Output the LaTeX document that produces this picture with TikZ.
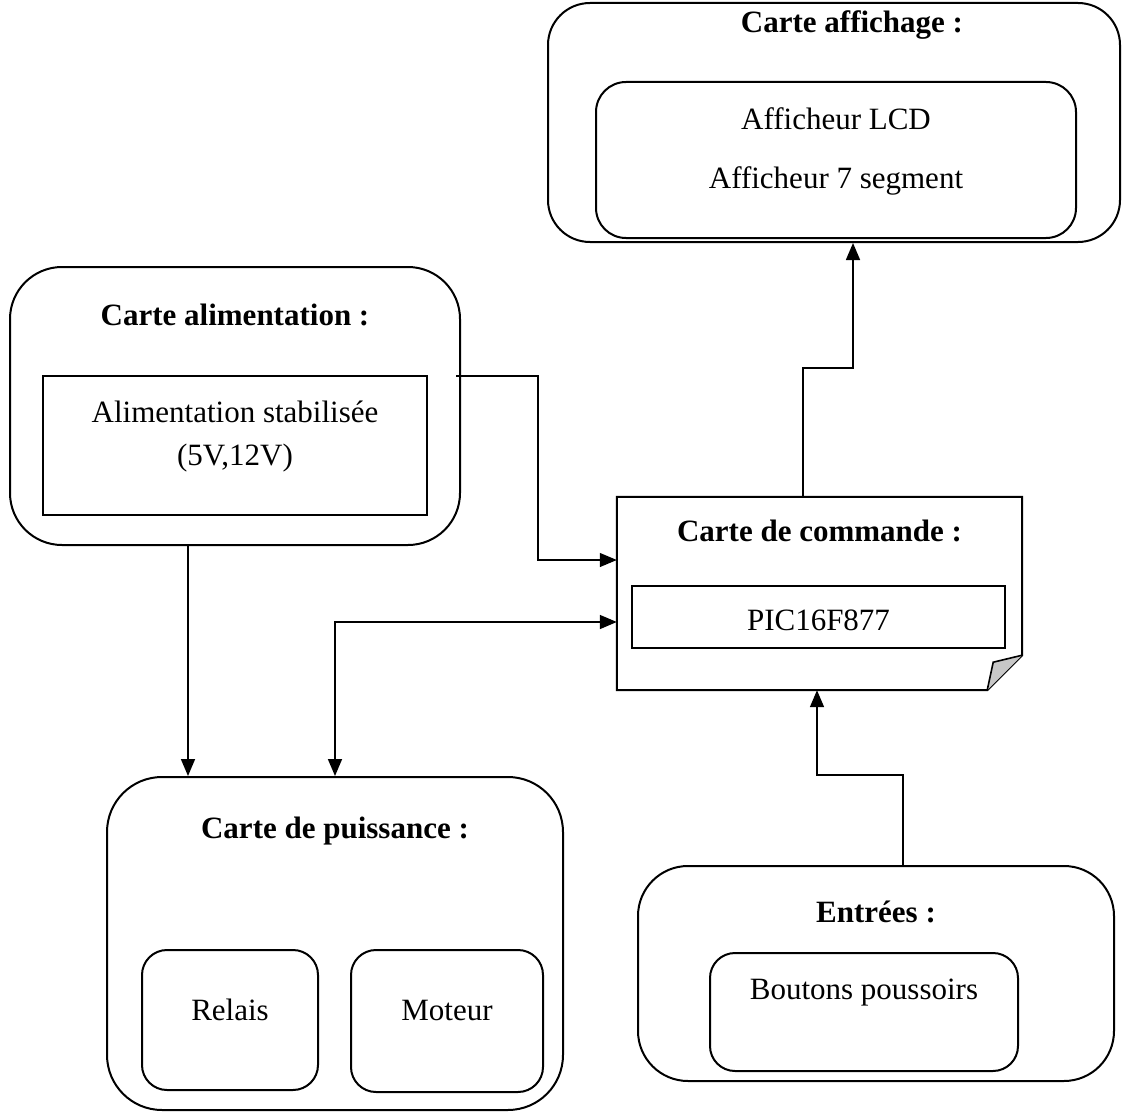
\documentclass[tikz,border=0pt]{standalone}
\usepackage{fontspec}
\setmainfont{Liberation Serif}
\usetikzlibrary{arrows.meta}
\begin{document}
\begin{tikzpicture}[x=1pt,y=-1pt,
  card/.style={draw,line width=2pt,rounded corners=#1,inner sep=0pt},
  card/.default=45pt,
  plainbox/.style={draw,line width=2pt,inner sep=0pt},
  txt/.style={anchor=base,inner sep=0pt,font=\fontsize{31}{37}\selectfont},
  ttl/.style={txt,font=\fontsize{31}{37}\selectfont\bfseries},
  link/.style={line width=1.6pt,-{Triangle[length=17pt,width=14pt]}},
  thinlink/.style={line width=1.1pt,-{Triangle[length=17pt,width=14pt]}}]
\useasboundingbox (0,0) rectangle (1122,1113);

% display card
\node[card=42pt,minimum width=572pt,minimum height=239pt] (aff) at (834,122.5) {};
\node[card=30pt,minimum width=480pt,minimum height=156pt] (affin) at (836,160) {};
\node[ttl] (afft) at (852,33) {Carte affichage :};
\node[txt] (lcd) at (836,130) {Afficheur LCD};
\node[txt] (seg) at (836,188) {Afficheur 7 segment};

% power supply card
\node[card=52pt,minimum width=450pt,minimum height=278pt] (alim) at (235,406) {};
\node[plainbox,minimum width=384pt,minimum height=139pt] (alimin) at (235,445.5) {};
\node[ttl] (alimt) at (235,325) {Carte alimentation :};
\node[txt] (stab) at (235,422) {Alimentation stabilisée};
\node[txt] (volt) at (235,465) {(5V,12V)};

% control card (folded corner)
\node[minimum width=405pt,minimum height=193pt,inner sep=0pt] (cmd) at (819.5,593.5) {};
\draw[line width=2pt] (cmd.north west) -- (cmd.north east) -- ([yshift=35pt]cmd.south east)
  -- ([xshift=-35pt]cmd.south east) -- (cmd.south west) -- cycle;
\draw[line width=1.6pt,fill=black!22] ([xshift=-35pt]cmd.south east) -- ([xshift=-29pt,yshift=28pt]cmd.south east)
  -- ([yshift=35pt]cmd.south east);
\node[plainbox,minimum width=373pt,minimum height=62pt] (pic) at (818.5,617) {};
\node[ttl] (cmdt) at (819.5,541) {Carte de commande :};
\node[txt] (pict) at (818.5,630) {PIC16F877};

% power card
\node[card=55pt,minimum width=456pt,minimum height=333pt] (pui) at (335,943.5) {};
\node[ttl] (puit) at (335,838) {Carte de puissance :};
\node[card=25pt,minimum width=176pt,minimum height=140pt] (rel) at (230,1020) {};
\node[card=25pt,minimum width=192pt,minimum height=142pt] (mot) at (447,1021) {};
\node[txt] (relt) at (230,1020) {Relais};
\node[txt] (mott) at (447,1020) {Moteur};

% inputs card
\node[card=50pt,minimum width=476pt,minimum height=215pt] (ent) at (876,973.5) {};
\node[card=25pt,minimum width=308pt,minimum height=118pt] (entin) at (864,1012) {};
\node[ttl] (entt) at (876,922) {Entrées :};
\node[txt] (btn) at (864,999) {Boutons poussoirs};

% connectors
\coordinate (s1) at (456,376);
\draw[thinlink] (s1) -- (538,376) -- (538,560) -- (cmd.west |- 0,560);
\draw[link] (alim.south -| 188,0) -- (pui.north -| 188,0);
\draw[link,{Triangle[length=17pt,width=14pt]}-{Triangle[length=17pt,width=14pt]}]
  (pui.north -| 335,0) -- (335,622) -- (cmd.west |- 0,622);
\draw[link] (ent.north -| 903,0) -- (903,775) -- (817,775) -- (cmd.south -| 817,0);
\draw[link] (cmd.north -| 803,0) -- (803,368) -- (853,368) -- (aff.south -| 853,0);
\end{tikzpicture}
\end{document}
